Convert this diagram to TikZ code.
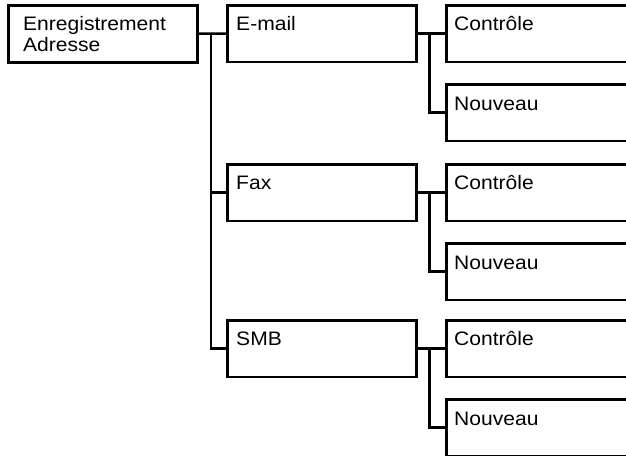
\documentclass[tikz,border=0pt]{standalone}
\usepackage{fontspec}
\setmainfont{Liberation Sans}[FakeStretch=1.08]
\begin{document}
\begin{tikzpicture}[x=1pt,y=-1pt,
  box/.style={draw,line width=2.5pt,inner sep=0pt,anchor=north west},
  rootbox/.style={box,minimum width=188.7pt,minimum height=57pt},
  midbox/.style={box,minimum width=189pt,minimum height=56.5pt},
  leafbox/.style={box,minimum width=195pt,minimum height=56.5pt},
  lbl/.style={anchor=base west,inner sep=0pt,font=\fontsize{19.5}{21}\selectfont,align=left},
  wire/.style={line width=2.5pt}]
\useasboundingbox (0,0) rectangle (626,455);
% boxes
\node[rootbox] (root) at (7.3,4) {};
\node[midbox] (email) at (226,4) {};
\node[midbox] (fax) at (226,163) {};
\node[midbox] (smb) at (226,319) {};
\node[leafbox] (ec) at (445,4) {};
\node[leafbox] (en) at (445,83) {};
\node[leafbox] (fc) at (445,163) {};
\node[leafbox] (fn) at (445,242) {};
\node[leafbox] (sc) at (445,319) {};
\node[leafbox] (sn) at (445,398) {};
% texts
\node[lbl] (troot) at (23,51.7) {Enregistrement\\Adresse};
\node[lbl] (temail) at (236,30.7) {E-mail};
\node[lbl] (tfax) at (236,189.5) {Fax};
\node[lbl] (tsmb) at (236,345.5) {SMB};
\node[lbl] (tec) at (454,30.5) {Contrôle};
\node[lbl] (ten) at (454,110) {Nouveau};
\node[lbl] (tfc) at (454,189.5) {Contrôle};
\node[lbl] (tfn) at (454,269) {Nouveau};
\node[lbl] (tsc) at (454,345.5) {Contrôle};
\node[lbl] (tsn) at (454,425) {Nouveau};
% joints
\coordinate (j1) at (211,0);
\coordinate (j2) at (429.5,0);
% level 1 connectors
\draw[wire] (root.east) -- (email.west);
\draw[wire] (j1 |- email.west) -- (j1 |- smb.west) -- (smb.west);
\draw[wire] (j1 |- fax.west) -- (fax.west);
% level 2 connectors
\draw[wire] (email.east) -- (ec.west);
\draw[wire] (j2 |- ec.west) -- (j2 |- en.west) -- (en.west);
\draw[wire] (fax.east) -- (fc.west);
\draw[wire] (j2 |- fc.west) -- (j2 |- fn.west) -- (fn.west);
\draw[wire] (smb.east) -- (sc.west);
\draw[wire] (j2 |- sc.west) -- (j2 |- sn.west) -- (sn.west);
\end{tikzpicture}
\end{document}
